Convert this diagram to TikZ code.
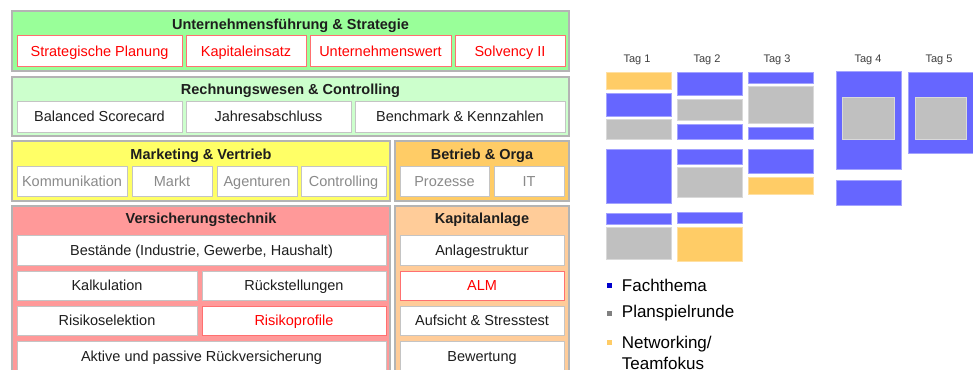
\documentclass[tikz,border=0pt]{standalone}
\usepackage{fontspec}
\setmainfont{Liberation Sans}
\usepackage{xcolor}
\usepackage{tikz}
\usetikzlibrary{positioning}

\definecolor{gruenA}{HTML}{99FF99}
\definecolor{gruenB}{HTML}{CCFFCC}
\definecolor{gelb}{HTML}{FFFF66}
\definecolor{orga}{HTML}{FFCC66}
\definecolor{rosa}{HTML}{FF9999}
\definecolor{kapital}{HTML}{FFCC99}
\definecolor{panelrand}{HTML}{B4B4B4}
\definecolor{zellrand}{HTML}{C4C4C4}
\definecolor{rotrand}{HTML}{FF7070}
\definecolor{schrift}{HTML}{1E1E1E}
\definecolor{grautext}{HTML}{8A8A8A}
\definecolor{fachblau}{HTML}{6666FF}
\definecolor{spielgrau}{HTML}{C0C0C0}
\definecolor{teamgelb}{HTML}{FFCC66}
\definecolor{legblau}{HTML}{0000CC}
\definecolor{leggrau}{HTML}{808080}

\tikzset{
  panel/.style={draw=panelrand, line width=1.2pt, inner sep=0pt},
  titel/.style={font=\bfseries\fontsize{14.5}{16}\selectfont, text=schrift, inner sep=0pt,
    text height=10.4pt, text depth=0pt},
  cell/.style={draw=zellrand, fill=white, line width=1pt, inner sep=0pt, text=schrift,
    font=\fontsize{14.5}{16}\selectfont, text height=10.4pt, text depth=0pt},
  rotcell/.style={cell, draw=rotrand, text=red},
  graucell/.style={cell, text=grautext},
  fach/.style={fill=fachblau, draw=fachblau!60!white, line width=0.7pt},
  spiel/.style={fill=spielgrau, draw=spielgrau!60!white, line width=0.7pt},
  team/.style={fill=teamgelb, draw=teamgelb!60!white, line width=0.7pt},
  taglabel/.style={font=\fontsize{11}{13}\selectfont, text=schrift!85, inner sep=0pt,
    text height=8pt, text depth=0pt},
  legpunkt/.style={minimum size=5pt, inner sep=0pt},
  legtext/.style={font=\fontsize{17}{21}\selectfont, text=black, inner sep=0pt}
}

\begin{document}
\begin{tikzpicture}[x=1pt, y=-1pt]
    \clip (0,0) rectangle (973,369);
    \fill[white] (0,0) rectangle (973,369);

    % Unternehmensfuehrung
    \node[panel, fill=gruenA, minimum width=557pt, minimum height=60pt] (pu) at (290.5,41) {};
    \node[titel] (tu) at (290.5,24) {Unternehmensführung \& Strategie};
    \node[rotcell, minimum width=165pt, minimum height=30pt] (sp) at (99.5,51) {Strategische Planung};
    \node[rotcell, minimum width=120pt, minimum height=30pt] (ke) at (246,51) {Kapitaleinsatz};
    \node[rotcell, minimum width=141pt, minimum height=30pt] (uw) at (380.5,51) {Unternehmenswert};
    \node[rotcell, minimum width=110pt, minimum height=30pt] (sol) at (510,51) {Solvency II};

    % Rechnungswesen
    \node[panel, fill=gruenB, minimum width=557pt, minimum height=59pt] (pr) at (290.5,106.5) {};
    \node[titel] (tr) at (290.5,89) {Rechnungswesen \& Controlling};
    \node[cell, minimum width=165pt, minimum height=31pt] (bsc) at (99.5,116.5) {Balanced Scorecard};
    \node[cell, minimum width=165pt, minimum height=31pt] (ja) at (268.5,116.5) {Jahresabschluss};
    \node[cell, minimum width=210pt, minimum height=31pt] (bk) at (460,116.5) {Benchmark \& Kennzahlen};

    % Marketing
    \node[panel, fill=gelb, minimum width=378pt, minimum height=60pt] (pm) at (201,171) {};
    \node[titel] (tm) at (201,154) {Marketing \& Vertrieb};
    \node[graucell, minimum width=110pt, minimum height=30pt] (kom) at (72,181) {Kommunikation};
    \node[graucell, minimum width=80pt, minimum height=30pt] (mar) at (172,181) {Markt};
    \node[graucell, minimum width=80pt, minimum height=30pt] (age) at (257,181) {Agenturen};
    \node[graucell, minimum width=85pt, minimum height=30pt] (con) at (343.5,181) {Controlling};

    % Betrieb
    \node[panel, fill=orga, minimum width=174pt, minimum height=60pt] (pb) at (482,171) {};
    \node[titel] (tb) at (482,154) {Betrieb \& Orga};
    \node[graucell, minimum width=89pt, minimum height=30pt] (pro) at (444.5,181) {Prozesse};
    \node[graucell, minimum width=70pt, minimum height=30pt] (it) at (529,181) {IT};

    % Versicherungstechnik
    \node[panel, fill=rosa, minimum width=378pt, minimum height=180pt] (pv) at (201,296) {};
    \node[titel] (tv) at (201,218) {Versicherungstechnik};
    \node[cell, minimum width=369pt, minimum height=30pt] (bes) at (201.5,250) {Bestände (Industrie, Gewerbe, Haushalt)};
    \node[cell, minimum width=180pt, minimum height=29pt] (kal) at (107,285.5) {Kalkulation};
    \node[cell, minimum width=184pt, minimum height=29pt] (rue) at (294,285.5) {Rückstellungen};
    \node[cell, minimum width=180pt, minimum height=29pt] (rs) at (107,320.5) {Risikoselektion};
    \node[rotcell, minimum width=184pt, minimum height=29pt] (rp) at (294,320.5) {Risikoprofile};
    \node[cell, minimum width=369pt, minimum height=30pt] (akt) at (201.5,356) {Aktive und passive Rückversicherung};

    % Kapitalanlage
    \node[panel, fill=kapital, minimum width=174pt, minimum height=180pt] (pk) at (482,296) {};
    \node[titel] (tk) at (482,218) {Kapitalanlage};
    \node[cell, minimum width=164pt, minimum height=30pt] (ans) at (482,250) {Anlagestruktur};
    \node[rotcell, minimum width=164pt, minimum height=29pt] (alm) at (482,285.5) {ALM};
    \node[cell, minimum width=164pt, minimum height=29pt] (auf) at (482,320.5) {Aufsicht \& Stresstest};
    \node[cell, minimum width=164pt, minimum height=30pt] (bew) at (482,356) {Bewertung};

    % Tage
    \node[taglabel] (t1) at (637,59) {Tag 1};
    \node[taglabel] (t2) at (707,59) {Tag 2};
    \node[taglabel] (t3) at (777,59) {Tag 3};
    \node[taglabel] (t4) at (868,59) {Tag 4};
    \node[taglabel] (t5) at (939,59) {Tag 5};

    \draw[team]  (606,72) rectangle (671,89);
    \draw[fach]  (606,93) rectangle (671,116);
    \draw[spiel] (606,119) rectangle (671,139);
    \draw[fach]  (606,149) rectangle (671,203);
    \draw[fach]  (606,213) rectangle (671,224);
    \draw[spiel] (606,227) rectangle (671,259);

    \draw[fach]  (677,72) rectangle (742,95);
    \draw[spiel] (677,99) rectangle (742,120);
    \draw[fach]  (677,124) rectangle (742,139);
    \draw[fach]  (677,149) rectangle (742,164);
    \draw[spiel] (677,167) rectangle (742,197);
    \draw[fach]  (677,212) rectangle (742,223);
    \draw[team]  (677,227) rectangle (742,261);

    \draw[fach]  (748,72) rectangle (813,83);
    \draw[spiel] (748,86) rectangle (813,123);
    \draw[fach]  (748,127) rectangle (813,139);
    \draw[fach]  (748,149) rectangle (813,173);
    \draw[team]  (748,177) rectangle (813,194);

    \draw[fach]  (836,71) rectangle (901,169);
    \draw[spiel] (842,97) rectangle (894,139);
    \draw[fach]  (836,180) rectangle (901,205);

    \draw[fach]  (908,72) rectangle (973,153);
    \draw[spiel] (915,97) rectangle (966,139);

    % Legende
    \node[legpunkt, fill=legblau] (qf) at (609,285) {};
    \node[legpunkt, fill=leggrau] (qp) at (609,313) {};
    \node[legpunkt, fill=teamgelb] (qt) at (609,342) {};
    \node[legtext, right=10pt of qf] (lf) {Fachthema};
    \node[legtext, right=10pt of qp] (lp) {Planspielrunde};
    \node[legtext, align=left, anchor=north west] (lt) at ([xshift=10pt,yshift=6.5pt]qt.east) {Networking/\\Teamfokus};
\end{tikzpicture}
\end{document}
